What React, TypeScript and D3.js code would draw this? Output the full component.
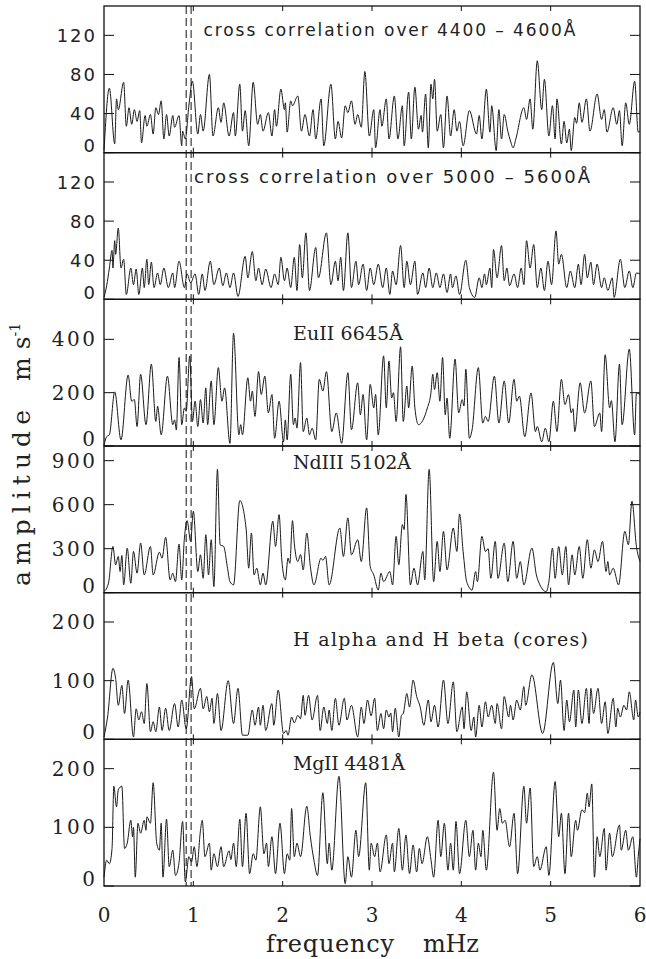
import React from "react";
import * as d3 from "d3";

// ---------- data (frequency in mHz, amplitude in m/s) ----------
const xTicks = [0, 1, 2, 3, 4, 5, 6];
const dashedFreqs = [0.92, 0.975];

const crossCorr4400: [number, number][] = [
  [0, 2], [0.06, 66], [0.12, 9], [0.14, 55], [0.16, 44], [0.22, 72], [0.25, 27], [0.28, 46], [0.31, 29], [0.34, 44],
  [0.37, 32], [0.4, 43], [0.42, 10], [0.46, 38], [0.48, 27], [0.52, 39], [0.55, 19], [0.58, 46], [0.61, 39], [0.64, 53],
  [0.67, 14], [0.7, 39], [0.73, 17], [0.77, 38], [0.79, 26], [0.84, 38], [0.87, 7], [0.88, 22], [0.91, 14], [0.95, 48],
  [0.99, 73], [1.05, 19], [1.08, 39], [1.11, 22], [1.18, 80], [1.22, 17], [1.28, 46], [1.31, 31], [1.34, 51], [1.4, 17],
  [1.45, 41], [1.47, 17], [1.52, 70], [1.55, 22], [1.58, 43], [1.62, 7], [1.67, 72], [1.72, 29], [1.75, 39], [1.78, 22],
  [1.84, 41], [1.88, 17], [1.91, 44], [1.93, 27], [1.98, 65], [2.02, 44], [2.03, 51], [2.05, 21], [2.09, 53], [2.11, 48],
  [2.17, 58], [2.21, 22], [2.25, 39], [2.3, 17], [2.34, 44], [2.37, 14], [2.43, 55], [2.46, 7], [2.54, 70], [2.59, 14],
  [2.62, 32], [2.66, 15], [2.7, 48], [2.73, 41], [2.77, 53], [2.81, 29], [2.84, 39], [2.88, 26], [2.92, 83], [2.97, 17],
  [3.02, 44], [3.04, 5], [3.09, 44], [3.11, 27], [3.16, 55], [3.19, 14], [3.25, 58], [3.29, 14], [3.34, 48], [3.36, 7],
  [3.41, 62], [3.44, 14], [3.48, 67], [3.52, 24], [3.55, 38], [3.565, 21], [3.6, 60], [3.63, 5], [3.66, 70], [3.68, 55],
  [3.7, 75], [3.73, 22], [3.77, 39], [3.8, 5], [3.84, 58], [3.88, 17], [3.92, 44], [3.95, 22], [3.98, 32], [4.02, 7],
  [4.09, 43], [4.17, 19], [4.2, 38], [4.23, 14], [4.28, 65], [4.32, 21], [4.34, 48], [4.39, 2], [4.42, 44], [4.45, 14],
  [4.48, 39], [4.52, 22], [4.55, 12], [4.58, 5], [4.61, 14], [4.7, 46], [4.73, 34], [4.77, 55], [4.8, 24], [4.85, 94],
  [4.9, 44], [4.93, 75], [4.98, 17], [5.02, 48], [5.05, 14], [5.07, 55], [5.12, 9], [5.15, 32], [5.18, 10], [5.21, 24],
  [5.23, 2], [5.27, 36], [5.29, 30], [5.32, 51], [5.35, 31], [5.4, 55], [5.44, 22], [5.52, 60], [5.57, 34], [5.6, 44],
  [5.63, 21], [5.7, 46], [5.74, 29], [5.77, 43], [5.8, 7], [5.84, 51], [5.88, 29], [5.94, 73], [5.98, 21], [6.0, 22],
];

const crossCorr5000: [number, number][] = [
  [0, 2], [0.03, 14], [0.06, 32], [0.09, 50], [0.1, 32], [0.12, 60], [0.13, 46], [0.16, 73], [0.19, 32], [0.22, 41],
  [0.25, 5], [0.3, 32], [0.33, 15], [0.36, 31], [0.39, 5], [0.43, 32], [0.45, 12], [0.48, 41], [0.5, 15], [0.53, 38],
  [0.56, 12], [0.6, 27], [0.63, 15], [0.67, 32], [0.72, 12], [0.77, 27], [0.79, 12], [0.84, 39], [0.9, 12], [0.93, 26],
  [0.97, 17], [1.02, 26], [1.06, 5], [1.1, 26], [1.13, 9], [1.19, 39], [1.23, 15], [1.29, 32], [1.33, 14], [1.37, 27],
  [1.41, 12], [1.45, 27], [1.5, 3], [1.58, 44], [1.61, 22], [1.66, 49], [1.7, 19], [1.73, 32], [1.77, 15], [1.81, 31],
  [1.87, 12], [1.91, 26], [1.95, 15], [1.98, 43], [2.02, 19], [2.05, 32], [2.09, 12], [2.13, 43], [2.16, 9], [2.19, 56],
  [2.22, 22], [2.26, 68], [2.3, 9], [2.37, 53], [2.4, 22], [2.49, 68], [2.54, 15], [2.59, 39], [2.62, 19], [2.65, 43],
  [2.68, 9], [2.73, 68], [2.77, 12], [2.82, 39], [2.85, 15], [2.9, 36], [2.94, 9], [2.98, 32], [3.02, 15], [3.07, 36],
  [3.12, 12], [3.16, 32], [3.2, 5], [3.23, 29], [3.27, 15], [3.32, 55], [3.36, 12], [3.39, 39], [3.43, 15], [3.48, 39],
  [3.51, 5], [3.57, 27], [3.6, 12], [3.64, 32], [3.68, 12], [3.72, 27], [3.76, 12], [3.8, 26], [3.84, 7], [3.88, 26],
  [3.9, 12], [3.94, 24], [3.98, 5], [4.05, 40], [4.09, 12], [4.15, 2], [4.2, 22], [4.23, 12], [4.26, 26], [4.28, 15],
  [4.32, 32], [4.34, 12], [4.36, 51], [4.4, 22], [4.45, 55], [4.48, 19], [4.51, 32], [4.54, 14], [4.59, 26], [4.63, 12],
  [4.67, 32], [4.7, 15], [4.73, 60], [4.77, 32], [4.81, 56], [4.85, 12], [4.89, 32], [4.93, 9], [4.97, 39], [5.01, 15],
  [5.06, 70], [5.09, 36], [5.12, 46], [5.18, 12], [5.22, 29], [5.27, 12], [5.31, 36], [5.34, 15], [5.38, 46], [5.41, 22],
  [5.45, 38], [5.48, 15], [5.52, 36], [5.57, 12], [5.6, 22], [5.64, 9], [5.69, 22], [5.71, 2], [5.78, 41], [5.83, 12],
  [5.88, 29], [5.92, 12], [5.96, 27], [6.0, 26],
];

const euII6645: [number, number][] = [
  [0, 4], [0.03, 35], [0.06, 42], [0.12, 203], [0.19, 23], [0.27, 266], [0.31, 168], [0.34, 174], [0.37, 73], [0.41, 269],
  [0.47, 80], [0.53, 307], [0.58, 92], [0.6, 149], [0.64, 42], [0.71, 262], [0.77, 80], [0.79, 98], [0.81, 60], [0.84, 332],
  [0.87, 80], [0.9, 143], [0.92, 130], [0.96, 338], [0.99, 92], [1.02, 168], [1.05, 73], [1.08, 174], [1.11, 86], [1.14, 218],
  [1.16, 80], [1.2, 244], [1.23, 80], [1.28, 294], [1.32, 168], [1.35, 218], [1.41, 10], [1.45, 423], [1.51, 42], [1.53, 80],
  [1.55, 42], [1.61, 256], [1.64, 168], [1.66, 206], [1.69, 111], [1.73, 279], [1.76, 193], [1.8, 262], [1.84, 124], [1.88, 193],
  [1.91, 29], [1.96, 168], [2.01, 16], [2.03, 98], [2.05, 23], [2.09, 269], [2.12, 80], [2.14, 105], [2.16, 67], [2.2, 313],
  [2.23, 54], [2.27, 105], [2.3, 42], [2.33, 67], [2.37, 23], [2.41, 250], [2.45, 206], [2.49, 279], [2.55, 54], [2.6, 124],
  [2.66, 10], [2.73, 275], [2.77, 61], [2.84, 237], [2.87, 117], [2.9, 193], [2.94, 23], [2.98, 231], [3.02, 143], [3.04, 193],
  [3.07, 42], [3.13, 338], [3.16, 143], [3.19, 319], [3.22, 180], [3.24, 200], [3.27, 92], [3.32, 372], [3.35, 92], [3.39, 225],
  [3.41, 143], [3.45, 300], [3.48, 143], [3.52, 80], [3.62, 143], [3.66, 200], [3.68, 269], [3.7, 212], [3.73, 275], [3.76, 168],
  [3.79, 332], [3.82, 117], [3.84, 180], [3.87, 29], [3.93, 326], [3.97, 124], [4.01, 174], [4.03, 150], [4.05, 288], [4.09, 29],
  [4.12, 60], [4.19, 294], [4.24, 86], [4.27, 111], [4.3, 92], [4.37, 262], [4.42, 86], [4.48, 244], [4.53, 86], [4.59, 250],
  [4.62, 168], [4.65, 187], [4.71, 35], [4.78, 199], [4.83, 54], [4.85, 73], [4.9, 16], [4.94, 67], [4.98, 16], [5.03, 168],
  [5.07, 54], [5.12, 250], [5.16, 155], [5.2, 193], [5.23, 124], [5.25, 140], [5.27, 54], [5.33, 237], [5.38, 124], [5.45, 244],
  [5.49, 73], [5.55, 124], [5.57, 54], [5.61, 342], [5.66, 143], [5.68, 170], [5.72, 16], [5.77, 307], [5.8, 80], [5.88, 363],
  [5.94, 42], [5.96, 199], [6.0, 193],
];

const ndIII5102: [number, number][] = [
  [0, 7], [0.05, 64], [0.1, 315], [0.13, 190], [0.16, 247], [0.18, 144], [0.2, 254], [0.22, 53], [0.26, 304], [0.3, 64],
  [0.33, 281], [0.37, 133], [0.41, 338], [0.45, 121], [0.52, 315], [0.55, 121], [0.62, 276], [0.65, 235], [0.69, 377], [0.74, 87],
  [0.77, 133], [0.8, 75], [0.84, 331], [0.87, 87], [0.9, 372], [0.93, 491], [0.97, 350], [1.0, 555], [1.05, 144], [1.08, 258],
  [1.11, 98], [1.14, 395], [1.17, 121], [1.2, 361], [1.23, 41], [1.27, 841], [1.3, 327], [1.34, 315], [1.38, 178], [1.41, 75],
  [1.45, 53], [1.52, 628], [1.59, 441], [1.62, 167], [1.65, 407], [1.68, 121], [1.71, 167], [1.75, 53], [1.78, 133], [1.81, 53],
  [1.89, 487], [1.92, 315], [1.96, 532], [1.99, 224], [2.03, 87], [2.06, 235], [2.08, 200], [2.11, 491], [2.13, 338], [2.17, 212],
  [2.2, 260], [2.23, 155], [2.27, 407], [2.31, 178], [2.35, 53], [2.43, 235], [2.45, 220], [2.48, 247], [2.52, 53], [2.64, 441],
  [2.68, 247], [2.73, 510], [2.77, 258], [2.84, 361], [2.88, 212], [2.94, 578], [2.98, 178], [3.02, 121], [3.07, 18], [3.1, 133],
  [3.13, 75], [3.2, 144], [3.23, 53], [3.27, 384], [3.3, 190], [3.34, 464], [3.36, 430], [3.38, 670], [3.43, 53], [3.47, 167],
  [3.51, 53], [3.57, 281], [3.59, 87], [3.64, 841], [3.69, 75], [3.73, 350], [3.76, 144], [3.8, 418], [3.84, 155], [3.91, 441],
  [3.95, 281], [3.98, 537], [4.02, 281], [4.06, 75], [4.12, 18], [4.16, 144], [4.18, 75], [4.23, 384], [4.27, 281], [4.3, 300],
  [4.33, 98], [4.38, 350], [4.41, 98], [4.48, 338], [4.52, 75], [4.58, 350], [4.62, 98], [4.66, 212], [4.7, 53], [4.79, 304],
  [4.84, 121], [4.88, 53], [4.95, 7], [4.98, 75], [5.02, 304], [5.05, 98], [5.09, 315], [5.13, 121], [5.17, 315], [5.2, 53],
  [5.24, 258], [5.27, 121], [5.32, 315], [5.36, 98], [5.41, 361], [5.45, 167], [5.49, 292], [5.53, 212], [5.58, 350], [5.62, 144],
  [5.64, 212], [5.66, 121], [5.7, 167], [5.76, 53], [5.83, 418], [5.87, 327], [5.91, 624], [5.96, 315], [6.0, 212],
];

const hAlphaBeta: [number, number][] = [
  [0, 4], [0.04, 38], [0.1, 121], [0.13, 104], [0.16, 58], [0.2, 92], [0.23, 44], [0.27, 101], [0.33, 4], [0.36, 52],
  [0.39, 33], [0.42, 47], [0.45, 27], [0.48, 95], [0.52, 13], [0.55, 30], [0.58, 13], [0.62, 55], [0.65, 15], [0.69, 53],
  [0.73, 15], [0.79, 61], [0.83, 21], [0.87, 67], [0.92, 18], [0.98, 107], [1.01, 52], [1.08, 87], [1.11, 52], [1.15, 73],
  [1.18, 47], [1.21, 70], [1.23, 27], [1.27, 78], [1.31, 15], [1.39, 100], [1.45, 27], [1.5, 87], [1.55, 7], [1.61, 7],
  [1.66, 50], [1.69, 24], [1.73, 55], [1.75, 24], [1.78, 58], [1.81, 15], [1.88, 61], [1.9, 24], [1.95, 84], [2.01, 10],
  [2.04, 15], [2.06, 7], [2.1, 38], [2.13, 28], [2.17, 41], [2.2, 35], [2.23, 75], [2.25, 41], [2.29, 75], [2.33, 33],
  [2.39, 75], [2.42, 15], [2.46, 55], [2.5, 27], [2.52, 50], [2.55, 15], [2.59, 70], [2.63, 24], [2.69, 70], [2.72, 33],
  [2.77, 58], [2.84, 4], [2.88, 55], [2.91, 27], [2.95, 67], [2.99, 40], [3.03, 70], [3.06, 15], [3.1, 44], [3.13, 18],
  [3.16, 50], [3.19, 38], [3.21, 45], [3.23, 13], [3.26, 53], [3.3, 4], [3.33, 41], [3.35, 44], [3.39, 78], [3.42, 55],
  [3.46, 101], [3.5, 73], [3.54, 55], [3.58, 24], [3.63, 67], [3.66, 30], [3.7, 58], [3.74, 21], [3.8, 101], [3.85, 27],
  [3.91, 98], [3.95, 13], [4.01, 55], [4.03, 18], [4.06, 81], [4.11, 15], [4.14, 38], [4.16, 4], [4.2, 58], [4.23, 21],
  [4.27, 64], [4.3, 38], [4.34, 58], [4.38, 27], [4.4, 61], [4.45, 18], [4.48, 73], [4.53, 38], [4.55, 58], [4.58, 33],
  [4.62, 67], [4.66, 50], [4.7, 90], [4.72, 58], [4.79, 110], [4.91, 10], [5.03, 131], [5.08, 61], [5.11, 101], [5.15, 15],
  [5.18, 67], [5.21, 30], [5.26, 84], [5.28, 21], [5.31, 84], [5.35, 27], [5.4, 87], [5.43, 27], [5.45, 87], [5.48, 44],
  [5.53, 87], [5.57, 27], [5.61, 64], [5.64, 10], [5.7, 70], [5.73, 21], [5.75, 53], [5.78, 38], [5.82, 58], [5.85, 50],
  [5.88, 81], [5.93, 33], [5.95, 67], [5.98, 38], [6.0, 47],
];

const mgII4481: [number, number][] = [
  [0, 15], [0.03, 44], [0.06, 38], [0.09, 64], [0.11, 170], [0.14, 135], [0.16, 164], [0.2, 170], [0.23, 64], [0.26, 73],
  [0.3, 112], [0.32, 84], [0.33, 100], [0.35, 15], [0.38, 107], [0.41, 90], [0.45, 112], [0.47, 95], [0.48, 118], [0.52, 107],
  [0.55, 176], [0.59, 73], [0.62, 61], [0.64, 107], [0.66, 15], [0.7, 114], [0.73, 33], [0.77, 61], [0.8, 18], [0.84, 40],
  [0.88, 110], [0.91, 7], [0.95, 50], [0.98, 41], [1.01, 67], [1.04, 33], [1.08, 95], [1.1, 112], [1.13, 50], [1.18, 73],
  [1.2, 27], [1.23, 55], [1.27, 33], [1.31, 67], [1.34, 33], [1.4, 60], [1.42, 45], [1.45, 73], [1.48, 33], [1.52, 114],
  [1.55, 33], [1.59, 124], [1.63, 21], [1.67, 55], [1.7, 44], [1.75, 135], [1.79, 55], [1.82, 73], [1.84, 33], [1.88, 84],
  [1.92, 21], [1.97, 107], [2.02, 21], [2.05, 55], [2.08, 44], [2.1, 132], [2.13, 50], [2.16, 73], [2.2, 50], [2.27, 136],
  [2.31, 84], [2.35, 44], [2.39, 18], [2.45, 159], [2.5, 38], [2.52, 73], [2.55, 27], [2.63, 187], [2.7, 4], [2.73, 50],
  [2.77, 15], [2.82, 95], [2.85, 50], [2.93, 176], [2.97, 27], [2.99, 73], [3.03, 50], [3.06, 73], [3.09, 24], [3.16, 87],
  [3.19, 38], [3.23, 73], [3.25, 24], [3.3, 98], [3.34, 27], [3.38, 87], [3.42, 21], [3.46, 70], [3.5, 24], [3.53, 64],
  [3.56, 38], [3.62, 84], [3.66, 45], [3.69, 15], [3.74, 112], [3.77, 50], [3.81, 107], [3.85, 27], [3.88, 73], [3.91, 27],
  [3.94, 110], [3.98, 21], [4.05, 112], [4.09, 50], [4.13, 95], [4.16, 27], [4.19, 73], [4.22, 50], [4.24, 95], [4.28, 27],
  [4.36, 194], [4.4, 95], [4.43, 132], [4.46, 107], [4.49, 112], [4.54, 67], [4.59, 124], [4.63, 21], [4.7, 170], [4.73, 107],
  [4.77, 167], [4.81, 33], [4.85, 50], [4.88, 27], [4.95, 67], [4.98, 18], [5.05, 178], [5.09, 84], [5.12, 124], [5.16, 21],
  [5.2, 124], [5.23, 50], [5.28, 112], [5.3, 95], [5.35, 130], [5.38, 125], [5.41, 158], [5.43, 135], [5.46, 174], [5.49, 15],
  [5.52, 84], [5.55, 50], [5.6, 98], [5.62, 27], [5.66, 90], [5.69, 50], [5.77, 104], [5.79, 61], [5.84, 95], [5.87, 61],
  [5.92, 84], [5.96, 15], [5.98, 50], [6.0, 81],
];

const panelSeries = [crossCorr4400, crossCorr5000, euII6645, ndIII5102, hAlphaBeta, mgII4481];
const panelTitles = [
  "cross correlation over 4400 \u2013 4600\u00C5",
  "cross correlation over 5000 \u2013 5600\u00C5",
  "EuII 6645\u00C5",
  "NdIII 5102\u00C5",
  "H alpha and H beta (cores)",
  "MgII 4481\u00C5",
];
const panelYMax = [150, 150, 550, 1000, 250, 250];
const panelYTicks = [
  [0, 40, 80, 120],
  [0, 40, 80, 120],
  [0, 200, 400],
  [0, 300, 600, 900],
  [0, 100, 200],
  [0, 100, 200],
];
const xTitleParts = ["frequency", "mHz"];
const yTitleMain = "amplitude";

// ---------- layout ----------
const W = 646;
const H = 959;
const LEFT = 104;
const RIGHT = 640;
const TOP = 6;
const BOTTOM = 886;
const NP = 6;
const PH = (BOTTOM - TOP) / NP;

const SERIF = "'DejaVu Serif', serif";
const SANS = "'DejaVu Sans', sans-serif";

const titleLayout = [
  { x: 203.5, dy: 30, font: SANS, size: 17, len: 372 },
  { x: 194, dy: 30, font: SANS, size: 18, len: 396 },
  { x: 293, dy: 41, font: SERIF, size: 19, len: 110 },
  { x: 293, dy: 22.7, font: SERIF, size: 19, len: 118 },
  { x: 293, dy: 53.3, font: SERIF, size: 19, len: 295 },
  { x: 293, dy: 30.7, font: SERIF, size: 19, len: 112 },
];

export default function App() {
  const x = d3.scaleLinear().domain([0, 6]).range([LEFT, RIGHT]);

  return (
    <svg
      width={W}
      height={H}
      viewBox={`0 0 ${W} ${H}`}
      style={{ position: "absolute", left: 0, top: 0, background: "#fff" }}
    >
      <rect x={0} y={0} width={W} height={H} fill="#fff" />
      {panelSeries.map((series, i) => {
        const y0 = TOP + i * PH;
        const y = d3.scaleLinear().domain([0, panelYMax[i]]).range([y0 + PH, y0]);
        const line = d3
          .line<[number, number]>()
          .x((d) => x(d[0]))
          .y((d) => y(d[1]))
          .curve(d3.curveMonotoneX);
        const sansTicks = i < 2;
        const tl = titleLayout[i];
        return (
          <g key={i}>
            <path d={line(series) || ""} fill="none" stroke="#1a1a1a" strokeWidth={1} />
            {/* frame */}
            <rect x={LEFT} y={y0} width={RIGHT - LEFT} height={PH} fill="none" stroke="#111" strokeWidth={1.3} />
            {/* y ticks left & right */}
            {panelYTicks[i].map((t) => (
              <g key={t}>
                <line x1={LEFT} x2={LEFT + 10} y1={y(t)} y2={y(t)} stroke="#111" strokeWidth={1} />
                <line x1={RIGHT} x2={RIGHT - 10} y1={y(t)} y2={y(t)} stroke="#111" strokeWidth={1} />
                <text
                  x={sansTicks ? 95 + 2 : 95 + 2.5}
                  y={t === 0 ? y(t) - 7 : y(t)}
                  textAnchor="end"
                  dominantBaseline="central"
                  fontFamily={sansTicks ? SANS : SERIF}
                  fontSize={sansTicks ? 18 : 20}
                  letterSpacing={sansTicks ? 2 : 2.5}
                  fill="#222"
                >
                  {t}
                </text>
              </g>
            ))}
            {/* x ticks top & bottom */}
            {xTicks.slice(1, -1).map((t) => (
              <g key={t}>
                <line x1={x(t)} x2={x(t)} y1={y0 + PH} y2={y0 + PH - 5} stroke="#111" strokeWidth={1} />
                <line x1={x(t)} x2={x(t)} y1={y0} y2={y0 + 5} stroke="#111" strokeWidth={1} />
              </g>
            ))}
            <text
              x={tl.x}
              y={y0 + tl.dy}
              fontFamily={tl.font}
              fontSize={tl.size}
              textLength={tl.len}
              lengthAdjust="spacing"
              fill="#222"
            >
              {panelTitles[i]}
            </text>
          </g>
        );
      })}
      {/* dashed reference lines */}
      {dashedFreqs.map((f) => (
        <line
          key={f}
          x1={x(f)}
          x2={x(f)}
          y1={TOP}
          y2={BOTTOM}
          stroke="#111"
          strokeWidth={1}
          strokeDasharray="8,4"
        />
      ))}
      {/* x tick labels */}
      {xTicks.map((t) => (
        <text
          key={t}
          x={x(t)}
          y={921.5}
          textAnchor="middle"
          fontFamily={SERIF}
          fontSize={20}
          fill="#222"
        >
          {t}
        </text>
      ))}
      {/* x title */}
      <text x={266} y={952} fontFamily={SERIF} fontSize={24} textLength={128} lengthAdjust="spacing" fill="#222">
        {xTitleParts[0]}
      </text>
      <text x={423} y={952} fontFamily={SERIF} fontSize={24} textLength={56} lengthAdjust="spacing" fill="#222">
        {xTitleParts[1]}
      </text>
      {/* y title */}
      <text
        transform="translate(30,586) rotate(-90)"
        x={0}
        y={0}
        fontFamily={SERIF}
        fontSize={25}
        textLength={176}
        lengthAdjust="spacing"
        fill="#222"
      >
        {yTitleMain}
      </text>
      <text transform="translate(30,381) rotate(-90)" x={0} y={0} fontFamily={SERIF} fontSize={25} fill="#222">
        <tspan>m</tspan>
        <tspan dx={8}>s</tspan>
        <tspan dy={-10} fontSize={14}>-1</tspan>
      </text>
    </svg>
  );
}
